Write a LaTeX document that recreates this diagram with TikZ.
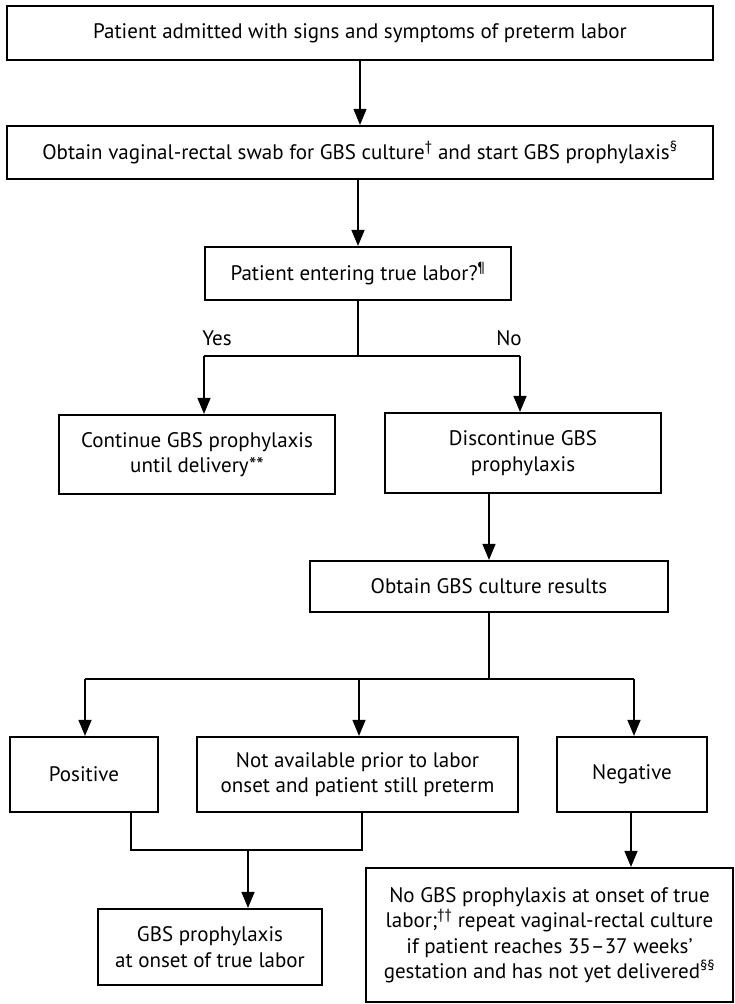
\documentclass[tikz,border=0pt]{standalone}
\usepackage{fontspec}
\setmainfont{PT Sans}
\usetikzlibrary{arrows.meta}
\begin{document}
\begin{tikzpicture}[x=1pt,y=-1pt,
  box/.style={draw,line width=2.2pt,rectangle,inner sep=0pt,align=center,font=\fontsize{21}{25.5}\selectfont},
  conn/.style={line width=1.5pt},
  arr/.style={conn,-{Triangle[length=16pt,width=13pt]}},
  lbl/.style={font=\fontsize{21}{25}\selectfont,inner sep=0pt}]
\useasboundingbox (0,0) rectangle (735,1004);
\node[box,minimum width=706pt,minimum height=54pt] (b1) at (360,33) {Patient admitted with signs and symptoms of preterm labor};
\node[box,minimum width=706pt,minimum height=53pt] (b2) at (360,152.5) {Obtain vaginal-rectal swab for GBS culture\textsuperscript{†} and start GBS prophylaxis\textsuperscript{§}};
\node[box,minimum width=306pt,minimum height=53pt] (b3) at (358,273.5) {Patient entering true labor?\textsuperscript{¶}};
\node[box,minimum width=276pt,minimum height=79pt] (cont) at (197,454.5) {Continue GBS prophylaxis\\until delivery**};
\node[box,minimum width=276pt,minimum height=80pt] (disc) at (523,453) {Discontinue GBS\\prophylaxis};
\node[box,minimum width=358pt,minimum height=51pt] (res) at (489,586.5) {Obtain GBS culture results};
\node[box,minimum width=148pt,minimum height=75pt] (pos) at (84,774.5) {Positive};
\node[box,minimum width=321pt,minimum height=75pt] (na) at (357.5,774.5) {Not available prior to labor\\onset and patient still preterm};
\node[box,minimum width=150pt,minimum height=75pt] (neg) at (632,774.5) {Negative};
\node[box,minimum width=224pt,minimum height=76pt] (gbs) at (210,947) {GBS prophylaxis\\at onset of true labor};
\node[box,minimum width=367pt,minimum height=134pt] (nogbs) at (549.5,935) {No GBS prophylaxis at onset of true\\labor;\textsuperscript{††} repeat vaginal-rectal culture\\if patient reaches 35–37 weeks’\\gestation and has not yet delivered\textsuperscript{§§}};
\node[lbl] (yes) at (217,338) {Yes};
\node[lbl] (no) at (509,338) {No};
\coordinate (j1) at (358,356);
\coordinate (j1l) at (204,356);
\coordinate (j1r) at (520,356);
\coordinate (j2) at (489,679);
\coordinate (j2l) at (85,679);
\coordinate (j2m) at (359,679);
\coordinate (j2r) at (634,679);
\coordinate (j3l) at (131,850);
\coordinate (j3r) at (362,850);
\coordinate (j3m) at (248,850);
\draw[arr] (b1.south -| 360,0) -- (b2.north -| 360,0);
\draw[arr] (b2.south -| b3) -- (b3.north);
\draw[conn] (b3.south) -- (j1);
\draw[conn] (j1l) -- (j1r);
\draw[arr] (j1l) -- (cont.north -| j1l);
\draw[arr] (j1r) -- (disc.north -| j1r);
\draw[arr] (disc.south -| res) -- (res.north);
\draw[conn] (res.south) -- (j2);
\draw[conn] (j2l) -- (j2r);
\draw[arr] (j2l) -- (pos.north -| j2l);
\draw[arr] (j2m) -- (na.north -| j2m);
\draw[arr] (j2r) -- (neg.north -| j2r);
\draw[conn] (pos.south -| j3l) -- (j3l) -- (j3r) -- (na.south -| j3r);
\draw[arr] (j3m) -- (gbs.north -| j3m);
\draw[arr] (neg.south -| 631,0) -- (nogbs.north -| 631,0);
\end{tikzpicture}
\end{document}
